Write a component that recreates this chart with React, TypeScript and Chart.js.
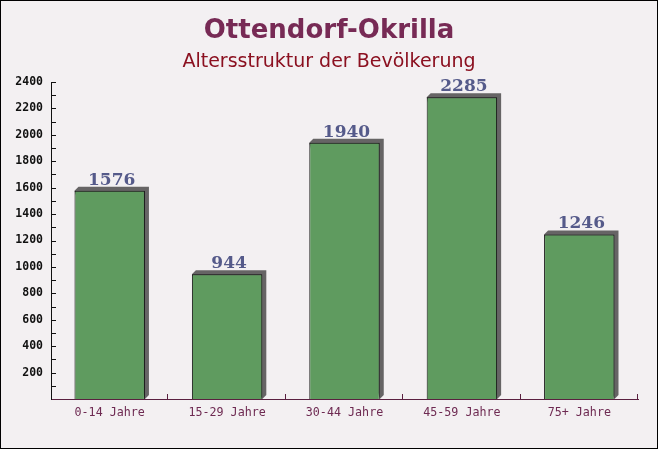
import React, { useEffect, useRef } from "react";
import { Chart, registerables } from "chart.js";

Chart.register(...registerables);

const categories = ["0-14 Jahre", "15-29 Jahre", "30-44 Jahre", "45-59 Jahre", "75+ Jahre"];
const values = [1576, 944, 1940, 2285, 1246];
const yMin = 0;
const yMax = 2400;
const yStep = 200;
const titleText = "Ottendorf-Okrilla";
const subtitleText = "Altersstruktur der Bevölkerung";

const W = 658;
const H = 449;

const decor = {
  id: "decor",
  beforeDraw(chart: any) {
    const ctx = chart.ctx;
    ctx.save();
    ctx.fillStyle = "#f3f0f2";
    ctx.fillRect(0, 0, W, H);
    ctx.textAlign = "center";
    ctx.textBaseline = "middle";
    ctx.fillStyle = "#772a55";
    ctx.font = "bold 26px 'DejaVu Sans'";
    ctx.fillText(titleText, W / 2, 31);
    ctx.fillStyle = "#8b1020";
    ctx.font = "19px 'DejaVu Sans'";
    ctx.fillText(subtitleText, W / 2, 62);
    ctx.restore();
  },
  beforeDatasetsDraw(chart: any) {
    const ctx = chart.ctx;
    const meta = chart.getDatasetMeta(0);
    ctx.save();
    ctx.fillStyle = "#666465";
    meta.data.forEach((bar: any) => {
      const l = bar.x - bar.width / 2;
      const r = bar.x + bar.width / 2;
      const t = bar.y;
      const b = bar.base;
      const d = 4;
      ctx.beginPath();
      ctx.moveTo(l, t);
      ctx.lineTo(l + d, t - d);
      ctx.lineTo(r + d, t - d);
      ctx.lineTo(r + d, b - d);
      ctx.lineTo(r, b);
      ctx.closePath();
      ctx.fill();
    });
    ctx.restore();
  },
  afterDatasetsDraw(chart: any) {
    const ctx = chart.ctx;
    const meta = chart.getDatasetMeta(0);
    const area = chart.chartArea;
    ctx.save();
    ctx.fillStyle = "#555a8a";
    ctx.font = "bold 17px 'DejaVu Serif'";
    ctx.textAlign = "center";
    ctx.textBaseline = "alphabetic";
    meta.data.forEach((bar: any, i: number) => {
      ctx.fillText(String(values[i]), bar.x + 2, bar.y - 6);
    });
    const ys = chart.scales.y;
    ctx.strokeStyle = "#111";
    ctx.lineWidth = 1;
    for (let v = yMin + yStep / 2; v <= yMax; v += yStep / 2) {
      const py = Math.round(ys.getPixelForValue(v)) + 0.5;
      ctx.beginPath();
      ctx.moveTo(area.left, py);
      ctx.lineTo(area.left + 5, py);
      ctx.stroke();
    }
    ctx.strokeStyle = "#5a2040";
    const n = categories.length;
    const cw = (area.right - area.left) / n;
    for (let k = 1; k <= n; k++) {
      const px = Math.round(area.left + k * cw) - 0.5;
      ctx.beginPath();
      ctx.moveTo(px, area.bottom);
      ctx.lineTo(px, area.bottom - 5);
      ctx.stroke();
    }
    ctx.restore();
  },
  afterDraw(chart: any) {
    const ctx = chart.ctx;
    ctx.save();
    ctx.strokeStyle = "#000";
    ctx.lineWidth = 1;
    ctx.strokeRect(0.5, 0.5, W - 1, H - 1);
    ctx.restore();
  },
};

export default function App() {
  const ref = useRef<HTMLCanvasElement | null>(null);
  useEffect(() => {
    document.body.style.margin = "0";
    if (!ref.current) return;
    const chart = new Chart(ref.current, {
      type: "bar",
      data: {
        labels: categories,
        datasets: [
          {
            data: values,
            backgroundColor: "#5f9b5f",
            borderColor: "#111",
            borderWidth: 1,
            borderSkipped: "bottom",
            barPercentage: 0.6,
            categoryPercentage: 1,
          },
        ],
      },
      options: {
        responsive: false,
        animation: false,
        devicePixelRatio: 1,
        layout: { padding: { top: 82, right: 20, left: 0, bottom: 0 } },
        plugins: {
          legend: { display: false },
          title: { display: false },
          tooltip: { enabled: false },
        },
        scales: {
          x: {
            grid: { display: false, drawTicks: false },
            border: { display: true, color: "#5a2040", width: 1 },
            ticks: {
              color: "#6e2a52",
              font: { family: "'DejaVu Sans Mono'", size: 11.7 },
              padding: 7,
              maxRotation: 0,
            },
            afterFit(scale: any) {
              scale.height = 50;
            },
          },
          y: {
            min: yMin,
            max: yMax,
            grid: { display: false, drawTicks: false },
            border: { display: true, color: "#111", width: 1 },
            ticks: {
              stepSize: yStep,
              color: "#111",
              font: { family: "'DejaVu Sans Mono'", size: 11.5, weight: "bold" },
              padding: 8,
              callback: (v: any) => (v === 0 ? "" : String(v)),
            },
            afterFit(scale: any) {
              scale.width = 51;
            },
          },
        },
      },
      plugins: [decor],
    });
    return () => chart.destroy();
  }, []);
  return <canvas ref={ref} width={W} height={H} style={{ display: "block", width: W, height: H }} />;
}
